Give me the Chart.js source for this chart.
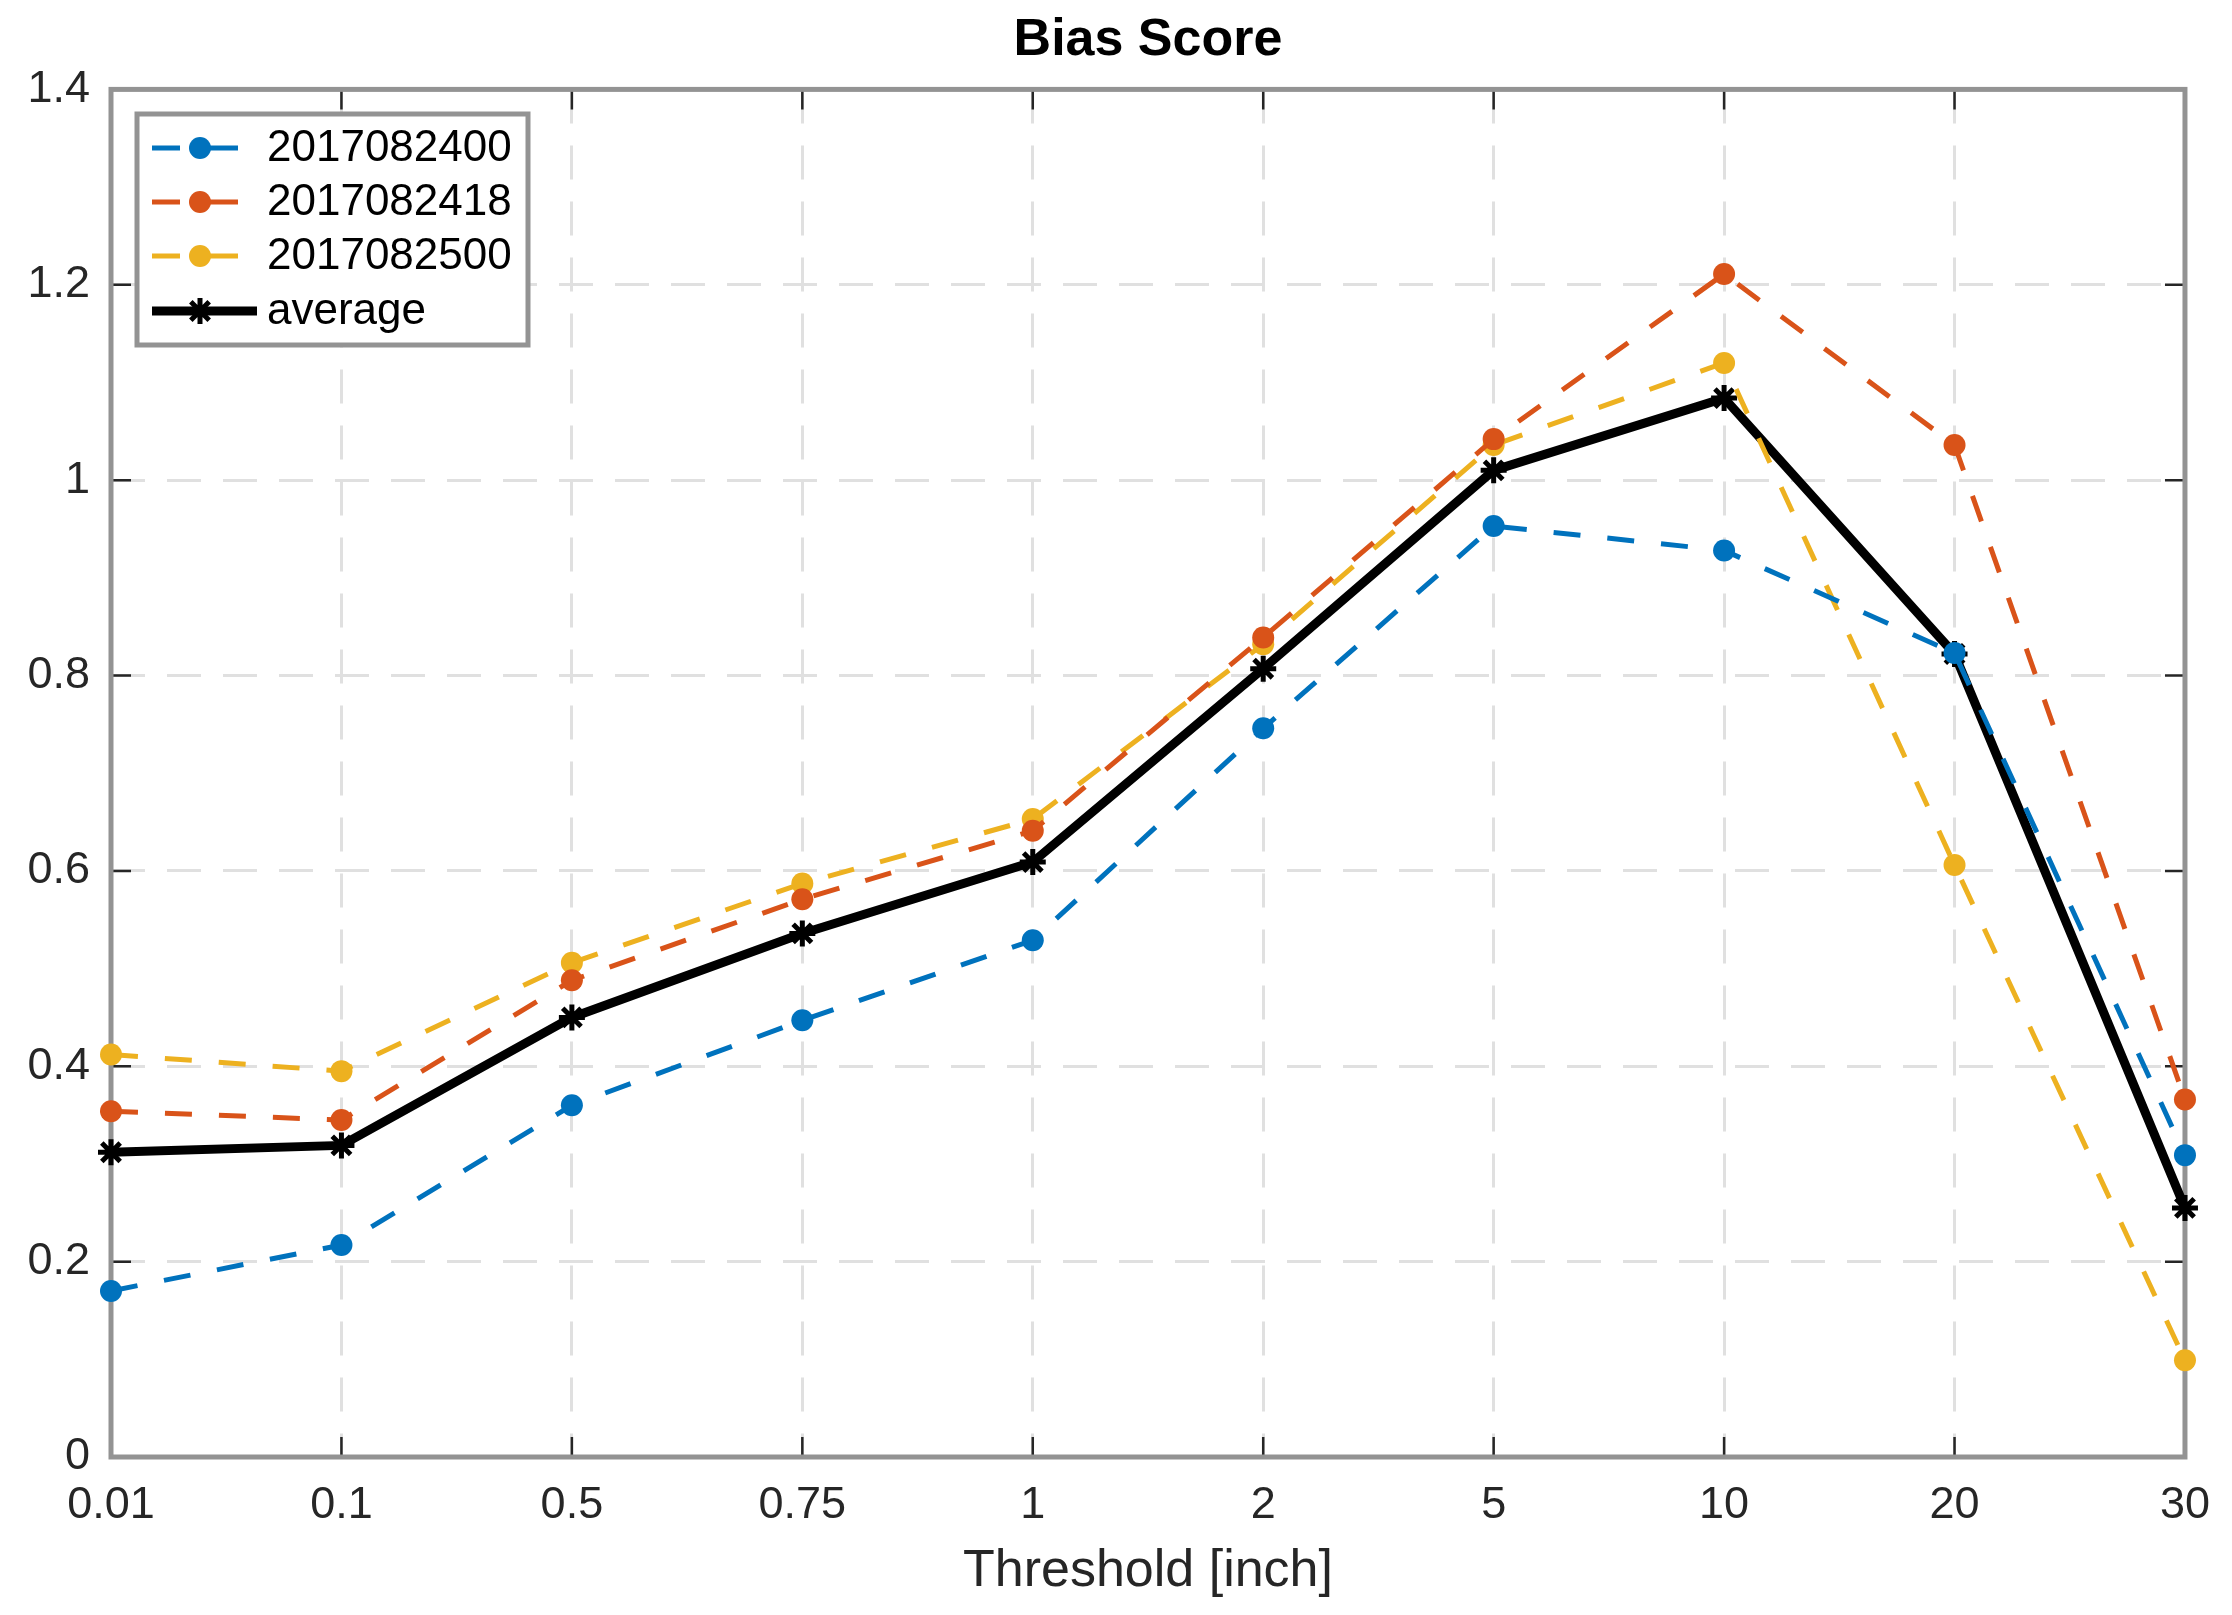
<!DOCTYPE html>
<html>
<head>
<meta charset="utf-8">
<script src="https://cdn.jsdelivr.net/npm/chart.js@4.4.1/dist/chart.umd.min.js"></script>
<style>
html, body { margin: 0; padding: 0; background: #fff; }
#wrap { width: 2232px; height: 1615px; }
</style>
</head>
<body>
<div id="wrap"><canvas id="bias-chart" width="2232" height="1615"></canvas></div>
<script>
// categorias del eje x (umbral en pulgadas)
const thresholds = ['0.01', '0.1', '0.5', '0.75', '1', '2', '5', '10', '20', '30'];

// valores
const run2017082400 = [0.170, 0.217, 0.360, 0.447, 0.529, 0.746, 0.953, 0.928, 0.823, 0.309];
const run2017082418 = [0.354, 0.345, 0.488, 0.571, 0.641, 0.839, 1.042, 1.211, 1.036, 0.366];
const run2017082500 = [0.412, 0.395, 0.506, 0.587, 0.653, 0.832, 1.036, 1.120, 0.606, 0.099];
const average = [0.312, 0.319, 0.450, 0.536, 0.609, 0.807, 1.010, 1.084, 0.822, 0.255];

const seriesNames = ['2017082400', '2017082418', '2017082500', 'average'];
const yTicks = [0, 0.2, 0.4, 0.6, 0.8, 1, 1.2, 1.4];

const FONT = '"Liberation Sans", Arial, Helvetica, sans-serif';
const TEXT = '#262626';

function dashedSeries(label, data, color) {
    return {
        label: label,
        data: data,
        borderColor: color,
        backgroundColor: color,
        borderWidth: 5,
        borderDash: [27, 27],
        pointStyle: 'circle',
        pointRadius: 11,
        pointBorderWidth: 0,
        pointBackgroundColor: color,
        tension: 0,
        clip: false
    };
}

// centrar el titulo sobre el area de ejes, como en MATLAB
const centerTitle = {
    id: 'centerTitle',
    afterLayout(chart) {
        if (chart.titleBlock) {
            chart.titleBlock.left = chart.chartArea.left;
            chart.titleBlock.right = chart.chartArea.right;
        }
    }
};

// cuadro de ejes con marcas hacia adentro (estilo MATLAB)
const boxTicks = {
    id: 'boxTicks',
    beforeDatasetsDraw(chart) {
        const { ctx, chartArea: a, scales: { x, y } } = chart;
        const len = 20;
        ctx.save();
        ctx.strokeStyle = TEXT;
        ctx.lineWidth = 2.5;
        ctx.beginPath();
        x.ticks.forEach((t, i) => {
            const px = x.getPixelForTick(i);
            ctx.moveTo(px, a.bottom); ctx.lineTo(px, a.bottom - len);
            ctx.moveTo(px, a.top); ctx.lineTo(px, a.top + len);
        });
        y.ticks.forEach((t, i) => {
            const py = y.getPixelForTick(i);
            ctx.moveTo(a.left, py); ctx.lineTo(a.left + len, py);
            ctx.moveTo(a.right, py); ctx.lineTo(a.right - len, py);
        });
        ctx.stroke();
        ctx.strokeStyle = '#939393';
        ctx.lineWidth = 5;
        ctx.strokeRect(a.left, a.top, a.right - a.left, a.bottom - a.top);
        ctx.restore();
    }
};

// leyenda dibujada a mano para mostrar linea + marcador
const boxLegend = {
    id: 'boxLegend',
    afterDraw(chart) {
        const ctx = chart.ctx;
        const bx = 137, by = 114, bw = 391, bh = 231;
        const rows = [148, 202, 256, 311];
        ctx.save();
        ctx.fillStyle = '#fff';
        ctx.fillRect(bx, by, bw, bh);
        ctx.strokeStyle = '#939393';
        ctx.lineWidth = 5;
        ctx.strokeRect(bx, by, bw, bh);

        chart.data.datasets.forEach((ds, i) => {
            const yy = rows[i];
            const solid = !ds.borderDash;
            ctx.save();
            ctx.strokeStyle = ds.borderColor;
            ctx.lineWidth = ds.borderWidth;
            ctx.setLineDash(solid ? [] : [28, 30]);
            ctx.beginPath();
            ctx.moveTo(152, yy);
            ctx.lineTo(solid ? 257 : 238, yy);
            ctx.stroke();
            ctx.restore();

            ctx.save();
            ctx.fillStyle = ds.pointBackgroundColor;
            ctx.strokeStyle = ds.pointBorderColor || ds.borderColor;
            ctx.lineWidth = ds.pointBorderWidth;
            if (ds.pointStyle === 'circle') {
                ctx.beginPath();
                ctx.arc(200, yy, ds.pointRadius, 0, Math.PI * 2);
                ctx.fill();
            } else {
                Chart.helpers.drawPoint(ctx, { pointStyle: ds.pointStyle, radius: ds.pointRadius, rotation: 0, borderWidth: ds.pointBorderWidth }, 200, yy);
            }
            ctx.restore();

            ctx.fillStyle = '#000';
            ctx.font = '44px ' + FONT;
            ctx.textBaseline = 'middle';
            ctx.textAlign = 'left';
            ctx.fillText(ds.label, 267, yy + 1);
        });
        ctx.restore();
    }
};

const ctx = document.getElementById('bias-chart').getContext('2d');

const biasChart = new Chart(ctx, {
    type: 'line',
    data: {
        labels: thresholds,
        datasets: [
            dashedSeries(seriesNames[0], run2017082400, '#0072BD'),
            dashedSeries(seriesNames[1], run2017082418, '#D95319'),
            dashedSeries(seriesNames[2], run2017082500, '#EDB120'),
            {
                label: seriesNames[3],
                data: average,
                borderColor: '#000',
                backgroundColor: '#000',
                borderWidth: 9,
                pointStyle: 'star',
                pointRadius: 13,
                pointBorderWidth: 5,
                pointBorderColor: '#000',
                pointBackgroundColor: '#000',
                tension: 0,
                clip: false
            }
        ]
    },
    options: {
        responsive: false,
        animation: false,
        devicePixelRatio: 1,
        layout: { padding: { left: 0, right: 39, top: 0, bottom: 0 } },
        plugins: {
            legend: { display: false },
            tooltip: { enabled: false },
            title: {
                display: true,
                text: 'Bias Score',
                color: '#000',
                font: { family: FONT, size: 52, weight: 'bold' },
                padding: { top: 9, bottom: 18 }
            }
        },
        scales: {
            x: {
                offset: false,
                border: { display: false, dash: [34, 22] },
                grid: { color: '#e0e0e0', lineWidth: 3, drawTicks: false },
                ticks: {
                    color: TEXT,
                    padding: 22,
                    maxRotation: 0,
                    autoSkip: false,
                    font: { family: FONT, size: 45 }
                },
                title: {
                    display: true,
                    text: 'Threshold [inch]',
                    color: TEXT,
                    font: { family: FONT, size: 52 },
                    padding: { top: 0, bottom: 12 }
                },
                afterFit(scale) { scale.height = 158; }
            },
            y: {
                min: 0,
                max: 1.4,
                border: { display: false, dash: [34, 22] },
                grid: { color: '#e0e0e0', lineWidth: 3, drawTicks: false },
                afterBuildTicks(scale) { scale.ticks = yTicks.map(v => ({ value: v })); },
                ticks: {
                    color: TEXT,
                    padding: 21,
                    font: { family: FONT, size: 45 },
                    callback: v => String(+Number(v).toFixed(1))
                },
                afterFit(scale) { scale.width = 111; }
            }
        }
    },
    plugins: [centerTitle, boxTicks, boxLegend]
});
</script>
</body>
</html>
